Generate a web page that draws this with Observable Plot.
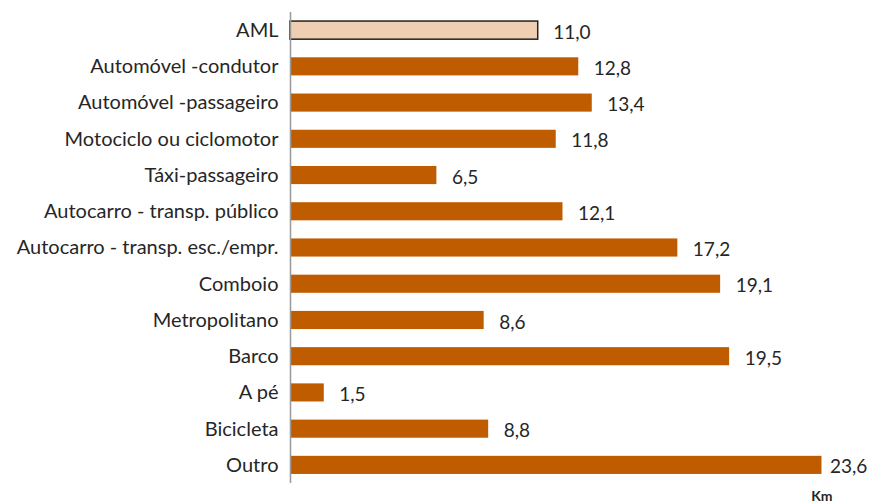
<!DOCTYPE html>
<html>
<head>
<meta charset="utf-8">
<script src="https://cdn.jsdelivr.net/npm/d3@7"></script>
<script src="https://cdn.jsdelivr.net/npm/@observablehq/plot@0.6"></script>
<style>
  html, body { margin: 0; padding: 0; background: #fff; }
  #chart svg { display: block; }
</style>
</head>
<body>
<div id="chart"></div>
<script>
const categories = [
  "AML",
  "Automóvel -condutor",
  "Automóvel -passageiro",
  "Motociclo ou ciclomotor",
  "Táxi-passageiro",
  "Autocarro - transp. público",
  "Autocarro - transp. esc./empr.",
  "Comboio",
  "Metropolitano",
  "Barco",
  "A pé",
  "Bicicleta",
  "Outro"
];
const values = [11.0, 12.8, 13.4, 11.8, 6.5, 12.1, 17.2, 19.1, 8.6, 19.5, 1.5, 8.8, 23.6];
const unitLabel = "Km";

const data = categories.map((c, i) => ({category: c, value: values[i], total: c === "AML"}));
const fmt = v => v.toFixed(1).replace(".", ",");

const chart = Plot.plot({
  width: 870,
  height: 504,
  marginLeft: 290,
  marginRight: 17,
  marginTop: 12,
  marginBottom: 21,
  style: {fontFamily: "Lato, sans-serif", background: "#fff", color: "#262626", overflow: "visible"},
  x: {domain: [0, 25], axis: null},
  y: {domain: categories, paddingInner: 0.5, paddingOuter: 0.25, round: false, label: null, axis: null},
  marks: [
    Plot.barX(data, {
      y: "category", x: "value",
      fill: d => d.total ? "#efcfb1" : "#c05c00",
      stroke: d => d.total ? "#222" : "none",
      strokeWidth: 1.5
    }),
    Plot.ruleX([0], {stroke: "#999", strokeWidth: 1.5}),
    Plot.text(data, {
      filter: d => d.value < 23,
      y: "category", x: "value", text: d => fmt(d.value),
      textAnchor: "start", dx: 15, dy: 2, fontSize: 19, fill: "#262626"
    }),
    Plot.text(data, {
      filter: d => d.value >= 23,
      y: "category", x: "value", text: d => fmt(d.value),
      textAnchor: "start", dx: 8, dy: 2, fontSize: 19, fill: "#262626"
    }),
    Plot.axisY({tickSize: 0, tickPadding: 12, fontSize: 20, label: null}),
    Plot.text([unitLabel], {
      frameAnchor: "bottom-right", dx: -21, dy: 17, fontSize: 14, fontWeight: "bold", fill: "#262626"
    })
  ]
});
document.getElementById("chart").appendChild(chart);
</script>
</body>
</html>
